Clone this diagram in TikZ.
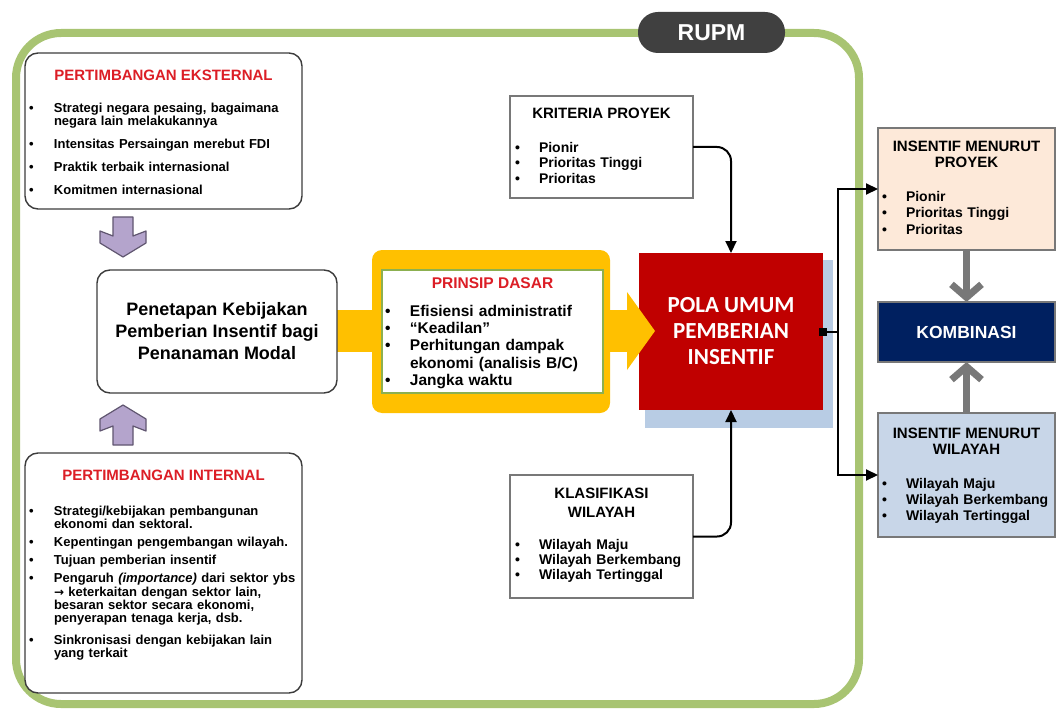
\documentclass[tikz,border=0pt]{standalone}
\usepackage{fontspec}
\setmainfont{Liberation Sans}
\newfontfamily\calib{Carlito}
\newfontfamily\symfont{DejaVu Sans}
\usetikzlibrary{arrows.meta}

\definecolor{framegreen}{RGB}{168,196,114}
\definecolor{tabgray}{RGB}{64,64,64}
\definecolor{titlered}{RGB}{220,30,38}
\definecolor{lilac}{RGB}{180,164,204}
\definecolor{lilacedge}{RGB}{96,86,112}
\definecolor{amber}{RGB}{255,192,0}
\definecolor{olive}{RGB}{140,176,80}
\definecolor{crimson}{RGB}{192,0,0}
\definecolor{shadowblue}{RGB}{184,204,228}
\definecolor{peach}{RGB}{253,233,217}
\definecolor{navy}{RGB}{0,32,96}
\definecolor{steel}{RGB}{200,214,232}
\definecolor{edgegray}{RGB}{120,120,120}
\definecolor{boxedge}{RGB}{60,60,60}

\newlength\bw
\newlength\itsep
% bullet item with hanging indent; \nl breaks a line inside the item
\newcommand\bitem[1]{\par\noindent\hangindent=\bw\hangafter=1\makebox[\bw][l]{\textbullet}#1}
\newcommand\isp{\par\vspace{\itsep}}
\newcommand\nl{\break}

\begin{document}
\begin{tikzpicture}[x=1pt,y=-1pt,
  every node/.style={inner sep=0pt,outer sep=0pt},
  roundbox/.style={draw=boxedge,line width=1.4pt,rounded corners=13pt,fill=white},
  plainbox/.style={draw=edgegray,line width=1.3pt,fill=white},
  sidebox/.style={draw=edgegray,line width=1.2pt},
  redtitle/.style={text=titlered,font=\fontsize{15}{17}\selectfont\bfseries},
  blacktitle/.style={font=\fontsize{15}{17}\selectfont\bfseries,align=center},
  lst/.style={anchor=north west,align=left,text width=#1},
  link/.style={line width=2pt,-{Triangle[length=12pt,width=11pt]}},
  purplearrow/.style={fill=lilac,draw=lilacedge,line width=1.2pt,line join=round},
  grayarrow/.style={draw=edgegray,line width=7pt,-{Straight Barb[length=13pt,width=30pt]}}
]
\useasboundingbox (0,0) rectangle (1056,711);
\fill[white] (0,0) rectangle (1056,711);

% outer RUPM frame and its tab
\draw[framegreen,line width=8pt,rounded corners=45pt] (16,33) rectangle (859,704);
\node[fill=tabgray,rounded corners=20pt,minimum width=147pt,minimum height=41pt,
      text=white,font=\fontsize{23}{25}\selectfont\bfseries] (rupm) at (711.5,32.5) {RUPM};

% external considerations
\node[roundbox,minimum width=277pt,minimum height=156pt] (ext) at (163.5,131) {};
\node[redtitle] (extT) at (163.5,75) {PERTIMBANGAN EKSTERNAL};
\node[lst=268pt,font=\fontsize{13}{12.6}\selectfont\bfseries] (extL) at (29,100) {%
  \setlength\bw{25pt}\setlength\itsep{10.5pt}%
  \bitem{Strategi negara pesaing, bagaimana\nl negara lain melakukannya}\isp
  \bitem{Intensitas Persaingan merebut FDI}\isp
  \bitem{Praktik terbaik internasional}\isp
  \bitem{Komitmen internasional}\par};

% internal considerations
\node[roundbox,minimum width=277pt,minimum height=240pt] (int) at (163.5,573) {};
\node[redtitle] (intT) at (163.5,475) {PERTIMBANGAN INTERNAL};
\node[lst=268pt,font=\fontsize{13}{13.3}\selectfont\bfseries] (intL) at (29,502) {%
  \setlength\bw{25pt}\setlength\itsep{4.8pt}%
  \bitem{Strategi/kebijakan pembangunan\nl ekonomi dan sektoral.}\isp
  \bitem{Kepentingan pengembangan wilayah.}\isp
  \bitem{Tujuan pemberian insentif}\isp
  \bitem{Pengaruh \textit{(importance)} dari sektor ybs\nl {\symfont\bfseries\fontsize{12}{13}\selectfont →} keterkaitan dengan sektor lain,\nl besaran sektor secara ekonomi,\nl penyerapan tenaga kerja, dsb.}\par\vspace{8pt}
  \bitem{Sinkronisasi dengan kebijakan lain\nl yang terkait}\par};

% block arrows into the policy box
\draw[purplearrow] (113,217) -- (133,217) -- (133,236) -- (146,231) -- (146,243)
  -- (123,257) -- (100,243) -- (100,231) -- (113,236) -- cycle;
\draw[purplearrow] (113,445) -- (133,445) -- (133,426) -- (146,431) -- (146,419)
  -- (123,405) -- (100,419) -- (100,431) -- (113,426) -- cycle;

% shadow and red core box
\fill[shadowblue] (645,260) rectangle (833,428);
\node[fill=crimson,minimum width=184pt,minimum height=157pt,align=center,
      text=white,font=\calib\fontsize{23}{26}\selectfont\bfseries] (red) at (731,331.5)
      {POLA UMUM\\PEMBERIAN\\INSENTIF};

% yellow arrow carrying the basic principles
\fill[amber] (337,310) rectangle (628,352);
\fill[amber,rounded corners=10pt] (372,250) rectangle (610,413);
\fill[amber] (627,292) -- (655,331) -- (627,370) -- cycle;
\node[draw=olive,line width=2pt,fill=white,minimum width=221pt,minimum height=123pt] (prinsip) at (492.5,331.5) {};
\node[redtitle,font=\fontsize{15.5}{17}\selectfont\bfseries] (prinsipT) at (492.5,283) {PRINSIP DASAR};
\node[lst=215pt,font=\fontsize{15.5}{17.3}\selectfont\bfseries] (prinsipL) at (385,299) {%
  \setlength\bw{25pt}%
  \bitem{Efisiensi administratif}\par
  \bitem{“Keadilan”}\par
  \bitem{Perhitungan dampak\nl ekonomi (analisis B/C)}\par
  \bitem{Jangka waktu}\par};

% policy box
\node[roundbox,minimum width=240pt,minimum height=123pt,align=center,
      font=\fontsize{18}{22}\selectfont\bfseries] (pen) at (217,331.5)
      {Penetapan Kebijakan\\Pemberian Insentif bagi\\Penanaman Modal};

% project criteria
\node[plainbox,minimum width=183pt,minimum height=102pt] (krit) at (601.5,147) {};
\node[blacktitle] (kritT) at (601.5,113) {KRITERIA PROYEK};
\node[lst=180pt,font=\fontsize{14}{15.5}\selectfont\bfseries] (kritL) at (515,137) {%
  \setlength\bw{24pt}%
  \bitem{Pionir}\par\bitem{Prioritas Tinggi}\par\bitem{Prioritas}\par};

% regional classification
\node[plainbox,minimum width=183pt,minimum height=123pt] (klas) at (601.5,536.5) {};
\node[blacktitle,font=\fontsize{15}{19}\selectfont\bfseries] (klasT) at (601.5,502.5) {KLASIFIKASI\\WILAYAH};
\node[lst=180pt,font=\fontsize{14}{15.3}\selectfont\bfseries] (klasL) at (515,534) {%
  \setlength\bw{24pt}%
  \bitem{Wilayah Maju}\par\bitem{Wilayah Berkembang}\par\bitem{Wilayah Tertinggal}\par};

% incentive outcomes on the right
\node[sidebox,fill=peach,minimum width=177pt,minimum height=122pt] (proj) at (966.5,189) {};
\node[blacktitle,font=\fontsize{15}{16.5}\selectfont\bfseries] (projT) at (966.5,154.5) {INSENTIF MENURUT\\PROYEK};
\node[lst=172pt,font=\fontsize{14}{16.5}\selectfont\bfseries] (projL) at (882,185) {%
  \setlength\bw{24pt}%
  \bitem{Pionir}\par\bitem{Prioritas Tinggi}\par\bitem{Prioritas}\par};

\node[sidebox,fill=navy,minimum width=177pt,minimum height=60pt,text=white,
      font=\fontsize{17.5}{20}\selectfont\bfseries] (komb) at (966.5,332) {KOMBINASI};

\node[sidebox,fill=steel,minimum width=177pt,minimum height=124pt] (wil) at (966.5,475) {};
\node[blacktitle,font=\fontsize{15}{16.5}\selectfont\bfseries] (wilT) at (966.5,441.5) {INSENTIF MENURUT\\WILAYAH};
\node[lst=172pt,font=\fontsize{14}{16.2}\selectfont\bfseries] (wilL) at (882,472) {%
  \setlength\bw{24pt}%
  \bitem{Wilayah Maju}\par\bitem{Wilayah Berkembang}\par\bitem{Wilayah Tertinggal}\par};

% connectors
\draw[link,rounded corners=14pt] (krit.east) -| (red.north);
\draw[link,rounded corners=14pt] (klas.east) -| (red.south);
\node[fill=black,minimum size=8pt] (dot) at (red.east) {};
\coordinate (split) at (838,331.5);
\draw[line width=2pt] (dot) -- (split);
\draw[link] (split) |- (proj.west);
\draw[link] (split) |- (wil.west);
\draw[grayarrow] (proj.south) -- (komb.north);
\draw[grayarrow] (wil.north) -- (komb.south);
\end{tikzpicture}
\end{document}
